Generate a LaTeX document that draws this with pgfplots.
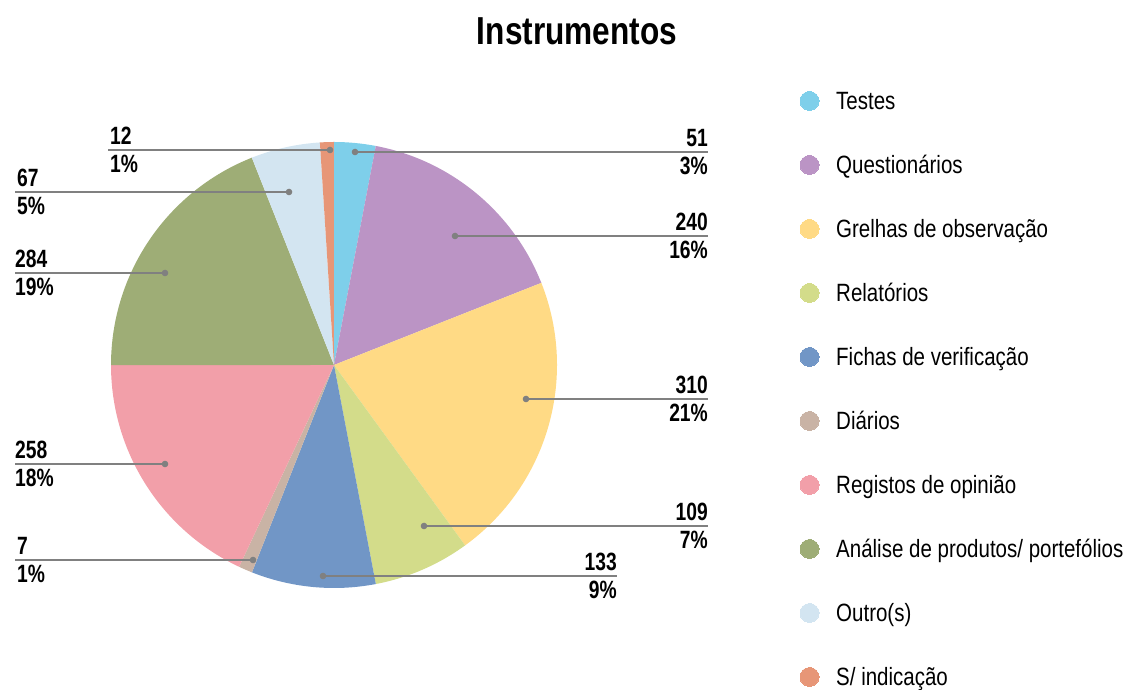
\documentclass[border=0pt]{standalone}
\usepackage{pgfplots}
\pgfplotsset{compat=1.18}
\usepackage{fontspec}
\setmainfont{Liberation Sans}[FakeStretch=0.77]
\newfontfamily\legfam{Liberation Sans}[FakeStretch=0.82]
\newfontfamily\titfam{Liberation Sans}[FakeStretch=0.81]
\definecolor{cT}{HTML}{7ECFEA}
\definecolor{cQ}{HTML}{BB94C5}
\definecolor{cG}{HTML}{FFDA85}
\definecolor{cR}{HTML}{D3DC8A}
\definecolor{cF}{HTML}{7196C6}
\definecolor{cD}{HTML}{C9B3A5}
\definecolor{cO}{HTML}{F29FA9}
\definecolor{cA}{HTML}{9EAD76}
\definecolor{cX}{HTML}{D3E5F1}
\definecolor{cS}{HTML}{E79677}
\definecolor{cLine}{RGB}{128,128,128}
% slice share (%) / colour, clockwise from the top
% (counts: 51, 240, 310, 109, 133, 7, 258, 284, 67, 12)
\def\slicedata{3/cT,16/cQ,21/cG,7/cR,9/cF,1/cD,18/cO,19/cA,5/cX,1/cS}
\newcommand\labfont{\fontsize{25}{29}\selectfont\bfseries}
\newcommand\legfont{\fontsize{25}{29}\selectfont\legfam}
\begin{document}
\begin{tikzpicture}
\useasboundingbox (0,0) rectangle (1127pt,690pt);
\begin{axis}[at={(0,0)}, anchor=south west, width=1127pt, height=690pt,
  scale only axis, xmin=0, xmax=1127, ymin=0, ymax=690, hide axis,
  clip=false, enlargelimits=false]
% ---- pie slices from the data ----
\pgfplotsextra{%
  \gdef\pietotal{0}%
  \foreach \v/\c in \slicedata {\pgfmathsetmacro\pietmp{\pietotal+\v}\global\let\pietotal\pietmp}%
  \gdef\piecur{90}%
  \foreach \v/\c in \slicedata {%
    \pgfmathsetmacro\piefrac{\v/\pietotal}%
    \pgfmathsetmacro\nxt{\piecur-360*\piefrac}%
    \fill[fill=\c] (axis cs:334,325) -- ++(\piecur:223pt) arc[start angle=\piecur,end angle=\nxt,radius=223pt] -- cycle;%
    \global\let\piecur\nxt
  }%
}
% ---- leader lines (dot first) ----
\pgfplotsset{leader/.style={cLine, line width=1.3pt, mark=*, mark indices={1}, mark size=2.6pt, mark options={fill=cLine, draw=cLine}}}
\addplot[leader] coordinates {(355,538) (708,538)};
\addplot[leader] coordinates {(455,454) (708,454)};
\addplot[leader] coordinates {(526,291) (708,291)};
\addplot[leader] coordinates {(424,164) (708,164)};
\addplot[leader] coordinates {(323,114) (617,114)};
\addplot[leader] coordinates {(330,540) (108,540)};
\addplot[leader] coordinates {(289,498) (15,498)};
\addplot[leader] coordinates {(165,417) (15,417)};
\addplot[leader] coordinates {(165,226) (15,226)};
\addplot[leader] coordinates {(253,130) (15,130)};
% ---- data labels ----
\begin{scope}[every node/.style={inner sep=0pt, font=\labfont}]
\node[anchor=base east] at (axis cs:708,543) {51};
\node[anchor=base east] at (axis cs:708,515) {3\%};
\node[anchor=base east] at (axis cs:708,459) {240};
\node[anchor=base east] at (axis cs:708,431) {16\%};
\node[anchor=base east] at (axis cs:708,296) {310};
\node[anchor=base east] at (axis cs:708,268) {21\%};
\node[anchor=base east] at (axis cs:708,169) {109};
\node[anchor=base east] at (axis cs:708,141) {7\%};
\node[anchor=base east] at (axis cs:617,119) {133};
\node[anchor=base east] at (axis cs:617,91) {9\%};
\node[anchor=base west] at (axis cs:110,545) {12};
\node[anchor=base west] at (axis cs:110,517) {1\%};
\node[anchor=base west] at (axis cs:17,503) {67};
\node[anchor=base west] at (axis cs:17,475) {5\%};
\node[anchor=base west] at (axis cs:15,422) {284};
\node[anchor=base west] at (axis cs:15,394) {19\%};
\node[anchor=base west] at (axis cs:15,231) {258};
\node[anchor=base west] at (axis cs:15,203) {18\%};
\node[anchor=base west] at (axis cs:17,135) {7};
\node[anchor=base west] at (axis cs:17,107) {1\%};
\end{scope}
% ---- legend ----
\pgfplotsset{legdot/.style={only marks, mark=*, mark size=9.5pt, color=#1, mark options={draw=#1, fill=#1, line width=0pt}}}
\addplot[legdot=cT] coordinates {(809.5,589)};
\addplot[legdot=cQ] coordinates {(809.5,525)};
\addplot[legdot=cG] coordinates {(809.5,461)};
\addplot[legdot=cR] coordinates {(809.5,397)};
\addplot[legdot=cF] coordinates {(809.5,333)};
\addplot[legdot=cD] coordinates {(809.5,269)};
\addplot[legdot=cO] coordinates {(809.5,205)};
\addplot[legdot=cA] coordinates {(809.5,141)};
\addplot[legdot=cX] coordinates {(809.5,77)};
\addplot[legdot=cS] coordinates {(809.5,13)};
\begin{scope}[every node/.style={inner sep=0pt, anchor=base west, font=\legfont}]
\node at (axis cs:836,580.5) {Testes};
\node at (axis cs:836,516.5) {Questionários};
\node at (axis cs:836,452.5) {Grelhas de observação};
\node at (axis cs:836,388.5) {Relatórios};
\node at (axis cs:836,324.5) {Fichas de verificação};
\node at (axis cs:836,260.5) {Diários};
\node at (axis cs:836,196.5) {Registos de opinião};
\node at (axis cs:836,132.5) {Análise de produtos/ portefólios};
\node at (axis cs:836,68.5) {Outro(s)};
\node at (axis cs:836,4.5) {S/ indicação};
\end{scope}
% ---- title ----
\node[anchor=base, inner sep=0pt, font=\fontsize{39}{44}\selectfont\titfam\bfseries] at (axis cs:577,645) {Instrumentos};
\end{axis}
\end{tikzpicture}
\end{document}
